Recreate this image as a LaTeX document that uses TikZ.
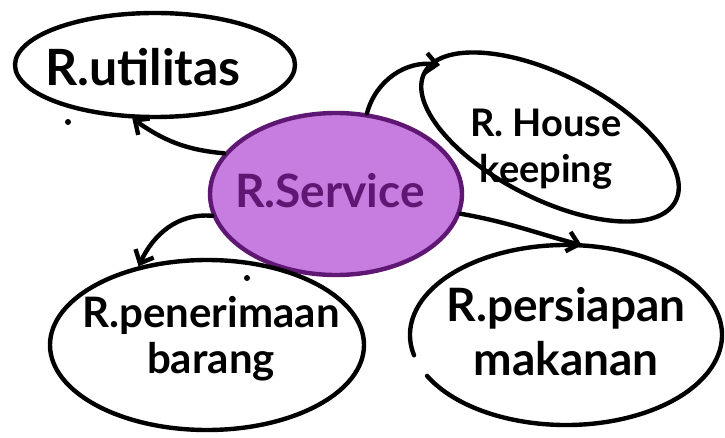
\documentclass[tikz,border=0pt]{standalone}
\usepackage{fontspec}
\setmainfont{Lato}
\usetikzlibrary{arrows.meta,shapes.geometric}
\definecolor{lilac}{HTML}{C77DDF}
\definecolor{plum}{HTML}{5E1773}
\newcommand{\roomfont}[2]{\fontsize{#1}{#2}\selectfont\bfseries}
\begin{document}
\begin{tikzpicture}[x=1pt,y=1pt,
  ink/.style={line width=4.4pt,line cap=round},
  room/.style={ink,draw,ellipse,inner sep=0pt},
  title/.style={align=center},
  link/.style={ink,-{Straight Barb[length=11pt,width=20pt,line width=4.4pt]}},
  ]
\useasboundingbox (0,0) rectangle (725,437);

% room outlines
\node[room,minimum width=280pt,minimum height=104pt] (util) at (155,372) {};
\node[room,fill=lilac,draw=plum,minimum width=252pt,minimum height=162pt] (srv) at (336,243) {};
\node[room,minimum width=314pt,minimum height=170pt] (pen) at (207,92) {};

% food preparation room: open outline with a gap on the lower left
\node[ellipse,inner sep=0pt,minimum width=312pt,minimum height=180pt] (per) at (566,102) {};
\draw[ink] (per.center) ++(207:156 and 90) arc[start angle=207,end angle=553,x radius=156,y radius=90];

% tilted housekeeping room
\draw[ink,rotate around={-27:(550,300)}] (550,300) ellipse [x radius=141, y radius=62];
\coordinate (hkin) at (440,372);

% room names
\node[title,font=\roomfont{50}{50}] (util-t) at (143,370) {R.utilitas};
\node[title,text=plum,font=\roomfont{46}{46}] (srv-t) at (330,246) {R.Service};
\node[title,font=\roomfont{42}{46}] (pen-t) at (211,98) {R.penerimaan\\barang};
\node[title,font=\roomfont{46}{54}] (per-t) at (566,105) {R.persiapan\\makanan};
\node[title,font=\roomfont{38}{46}] (hk-t) at (546,288) {R. House\\keeping};

% links from the service room
\draw[link] (srv.160) to[out=175,in=-35] (util.247);
\draw[link] (srv.69) to[out=75,in=172] (hkin);
\draw[link] (srv.190) to[out=175,in=65] (pen.131);
\draw[link] (srv.-9) to[out=-10,in=165] (per.80);

% stray pen dots
\fill (68,315) circle (3pt);
\fill (247,159) circle (3pt);
\end{tikzpicture}
\end{document}
